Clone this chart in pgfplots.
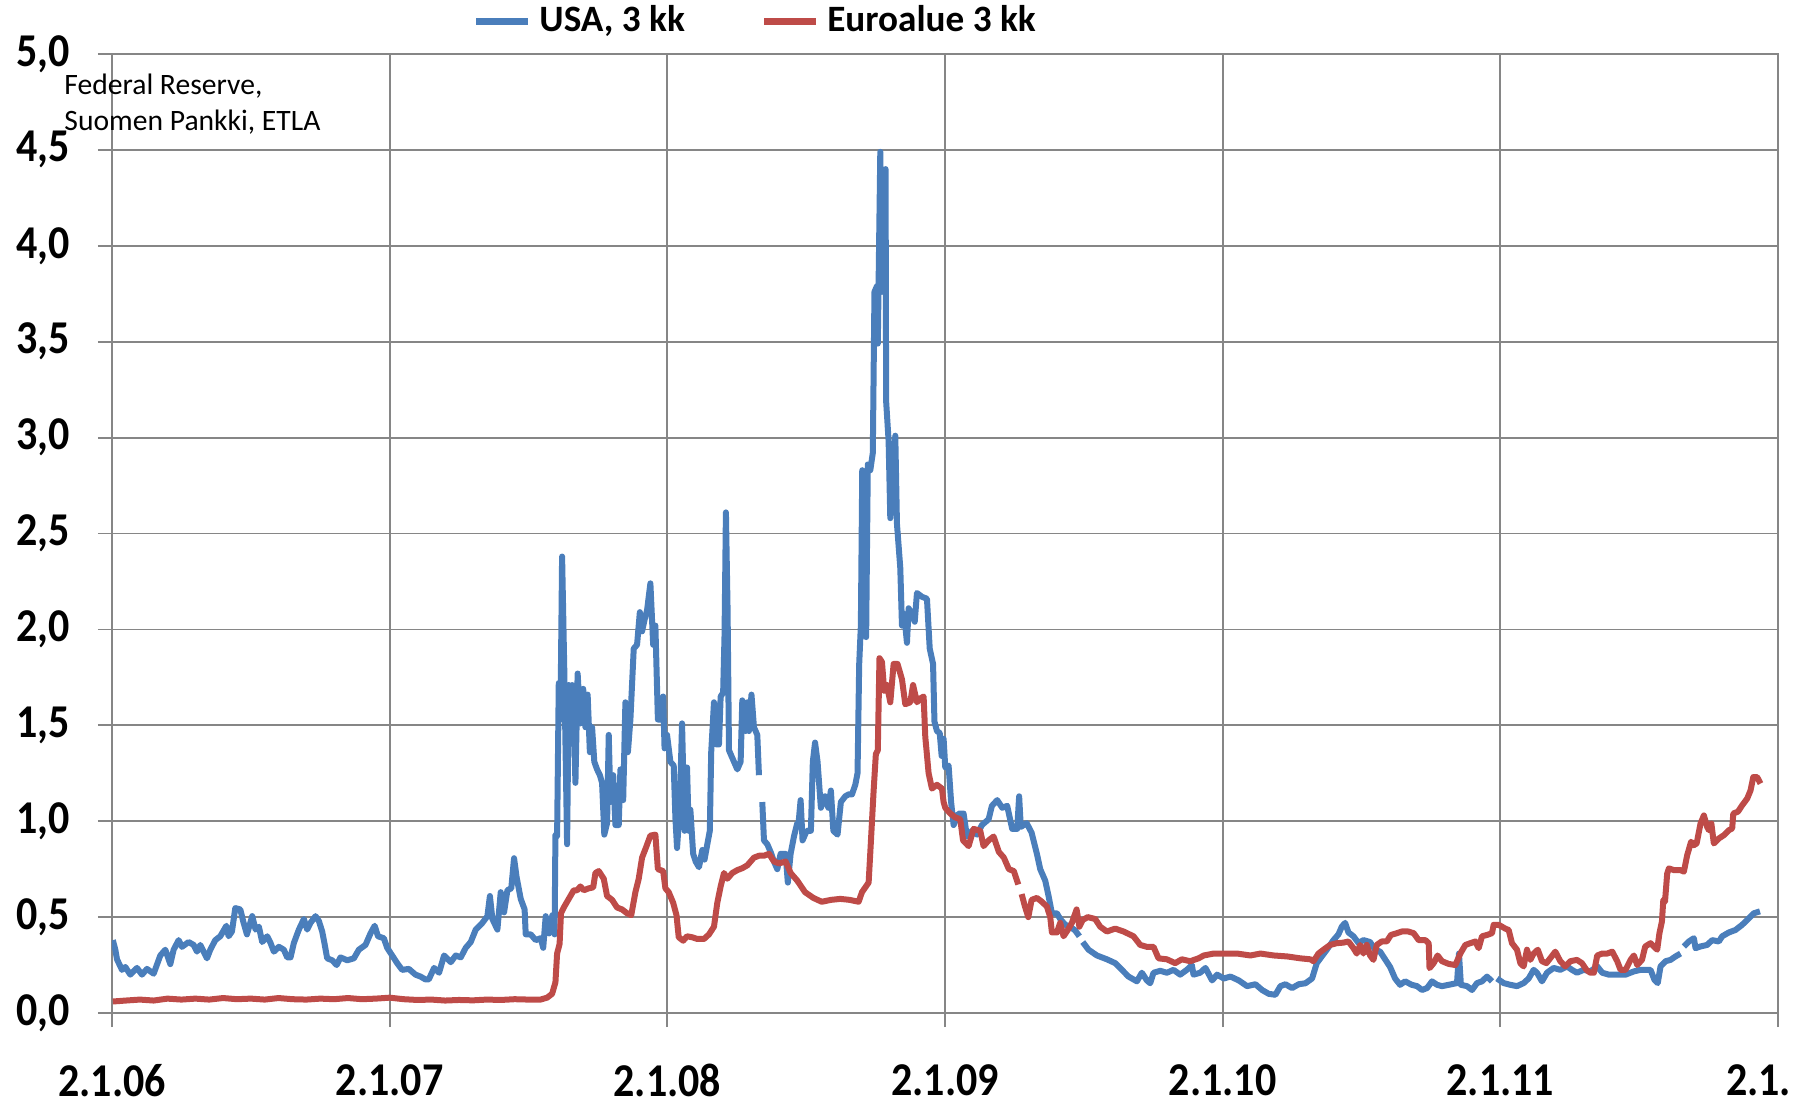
\documentclass[border=0pt]{standalone}
\usepackage{pgfplots}
\pgfplotsset{compat=1.18}
\usepackage{fontspec}
\setmainfont{Carlito}
\definecolor{usablue}{HTML}{4A7EBB}
\definecolor{eured}{HTML}{BE4B48}
\definecolor{gridgray}{HTML}{868686}

\begin{document}
\begin{tikzpicture}
\begin{axis}[
    at={(0,0)}, anchor=south west,
    scale only axis, width=416.5pt, height=239.75pt,
    xmin=0, xmax=6, ymin=0, ymax=5,
    xtick={0,1,2,3,4,5},
    xticklabels={2.1.06,2.1.07,2.1.08,2.1.09,2.1.10,2.1.11},
    extra x ticks={6},
    extra x tick labels={2.1.},
    extra x tick style={grid=major, xticklabel style={anchor=north west, xshift=-16.5pt}},
    ytick={0,0.5,1,1.5,2,2.5,3,3.5,4,4.5,5},
    /pgf/number format/use comma,
    /pgf/number format/fixed,
    /pgf/number format/fixed zerofill,
    /pgf/number format/precision=1,
    /pgf/number format/assume math mode=true,
    grid=major,
    major grid style={draw=gridgray, line width=0.45pt},
    axis line style={draw=gridgray, line width=0.45pt},
    tick style={draw=gridgray, line width=0.45pt},
    tick align=outside, major tick length=3.5pt,
    xtick pos=bottom, ytick pos=left,
    ticklabel style={font=\fontsize{10.5}{12}\selectfont\bfseries, yscale=1.12, overlay},
    yticklabel style={xshift=-3.5pt},
    xticklabel style={yshift=-4.8pt},
    unbounded coords=jump,
    clip mode=individual,
    legend columns=2,
    legend style={at={(0.388,1.034)}, anchor=center, draw=none, fill=none, overlay,
        font=\fontsize{9.3}{11}\selectfont\bfseries, yscale=1.12,
        /tikz/every even column/.append style={column sep=17pt}},
    legend image code/.code={\draw[#1, line width=1.6pt] (0pt,0pt) -- (13pt,0pt);},
]
% USA, 3 kk
\addplot[usablue, line width=1.5pt, line join=round] coordinates {
(0.003,0.38)(0.012,0.33)(0.018,0.28)(0.036,0.225)(0.048,0.24)(0.066,0.20)(0.090,0.235)(0.108,0.20)
(0.126,0.23)(0.150,0.205)(0.174,0.30)(0.192,0.33)(0.210,0.255)(0.222,0.33)(0.240,0.38)(0.252,0.345)
(0.276,0.37)(0.294,0.355)(0.306,0.32)(0.318,0.355)(0.342,0.285)(0.354,0.33)(0.372,0.38)(0.390,0.40)
(0.412,0.455)(0.420,0.40)(0.432,0.425)(0.444,0.547)(0.462,0.54)(0.474,0.47)(0.486,0.41)(0.505,0.505)
(0.517,0.435)(0.529,0.45)(0.541,0.37)(0.559,0.40)(0.571,0.365)(0.583,0.32)(0.601,0.345)(0.619,0.33)
(0.631,0.29)(0.643,0.29)(0.655,0.365)(0.673,0.435)(0.691,0.49)(0.703,0.435)(0.715,0.47)(0.733,0.505)
(0.745,0.48)(0.757,0.425)(0.765,0.365)(0.775,0.285)(0.793,0.275)(0.809,0.25)(0.823,0.29)(0.847,0.275)
(0.871,0.285)(0.889,0.33)(0.913,0.355)(0.931,0.415)(0.946,0.455)(0.958,0.40)(0.979,0.39)(0.991,0.34)
(1.009,0.30)(1.027,0.26)(1.045,0.225)(1.069,0.23)(1.093,0.20)(1.111,0.19)(1.129,0.175)(1.141,0.175)
(1.160,0.235)(1.178,0.21)(1.196,0.30)(1.220,0.265)(1.238,0.30)(1.256,0.29)(1.274,0.34)(1.292,0.37)
(1.310,0.435)(1.334,0.47)(1.352,0.505)(1.361,0.61)(1.370,0.49)(1.388,0.435)(1.400,0.63)(1.412,0.525)
(1.424,0.64)(1.438,0.65)(1.448,0.807)(1.457,0.71)(1.472,0.595)(1.486,0.54)(1.490,0.41)(1.508,0.41)
(1.526,0.38)(1.544,0.39)(1.553,0.34)(1.562,0.505)(1.574,0.415)(1.586,0.51)(1.594,0.41)
(1.597,0.93)(1.603,0.92)(1.609,1.72)(1.615,1.53)(1.621,2.38)(1.629,1.78)(1.639,0.88)(1.645,1.71)
(1.651,1.53)(1.657,1.71)(1.663,1.54)(1.669,1.20)(1.677,1.77)(1.687,1.51)(1.697,1.69)(1.705,1.49)
(1.713,1.66)(1.721,1.36)(1.729,1.49)(1.737,1.31)(1.747,1.27)(1.757,1.24)(1.765,1.20)(1.773,0.93)
(1.783,0.99)(1.789,1.45)(1.795,1.10)(1.805,1.24)(1.813,0.98)(1.825,0.98)(1.831,1.27)(1.841,1.11)
(1.849,1.62)(1.858,1.36)(1.867,1.53)(1.879,1.90)(1.891,1.92)(1.901,2.09)(1.909,1.99)(1.918,2.05)
(1.927,2.10)(1.939,2.24)(1.949,1.92)(1.957,2.02)(1.966,1.53)(1.975,1.53)(1.985,1.65)(1.990,1.38)
(1.999,1.45)(2.011,1.31)(2.023,1.29)(2.029,1.02)(2.035,0.86)(2.045,1.08)(2.053,1.51)(2.062,0.95)
(2.071,1.28)(2.077,0.95)(2.083,1.06)(2.093,0.83)(2.102,0.79)(2.114,0.76)(2.126,0.85)(2.134,0.80)
(2.144,0.88)(2.153,0.95)(2.158,1.36)(2.168,1.62)(2.177,1.40)(2.186,1.40)(2.192,1.65)(2.201,1.67)
(2.206,1.97)(2.211,2.61)(2.217,2.10)(2.222,1.37)(2.234,1.33)(2.252,1.27)(2.264,1.31)(2.270,1.63)
(2.282,1.47)(2.288,1.62)(2.294,1.47)(2.303,1.66)(2.312,1.49)(2.324,1.45)(2.330,1.24)(2.336,nan)
(2.342,1.10)(2.348,0.90)(2.360,0.88)(2.372,0.84)(2.384,0.79)(2.396,0.75)(2.408,0.83)(2.426,0.83)
(2.434,0.68)(2.444,0.83)(2.456,0.92)(2.468,0.99)
(2.472,0.98)(2.480,1.11)(2.487,0.90)(2.502,0.95)(2.517,0.95)(2.524,1.31)(2.532,1.41)(2.541,1.31)
(2.553,1.07)(2.568,1.13)(2.580,1.07)(2.589,1.16)(2.598,0.95)(2.613,0.93)(2.625,1.10)(2.641,1.13)
(2.653,1.14)(2.665,1.14)(2.677,1.19)(2.685,1.25)(2.691,1.82)(2.697,2.02)(2.702,2.83)(2.709,2.56)
(2.716,1.96)(2.722,2.86)(2.731,2.83)(2.740,2.92)(2.746,3.76)(2.755,3.79)(2.758,3.49)(2.767,4.49)
(2.773,3.76)(2.779,4.30)(2.786,4.40)(2.788,3.19)(2.797,2.98)(2.803,2.58)(2.811,2.74)(2.821,3.01)
(2.827,2.55)(2.839,2.32)(2.845,2.02)(2.853,2.08)(2.863,1.93)(2.869,2.11)(2.881,2.08)(2.891,2.04)
(2.899,2.19)(2.917,2.17)(2.935,2.16)(2.945,1.90)(2.957,1.82)(2.962,1.52)(2.971,1.47)(2.981,1.46)
(2.988,1.34)(2.995,1.43)(3.001,1.28)(3.013,1.29)(3.022,1.10)(3.031,0.98)(3.049,1.04)(3.067,1.04)
(3.079,0.92)(3.097,0.95)(3.115,0.93)(3.133,0.98)(3.157,1.01)(3.169,1.08)(3.188,1.11)(3.206,1.07)
(3.224,1.08)(3.242,0.96)(3.260,0.96)
(3.267,1.13)(3.273,0.97)(3.294,0.99)(3.312,0.94)(3.331,0.83)(3.343,0.75)(3.361,0.69)(3.373,0.61)
(3.385,0.52)(3.403,0.52)(3.415,0.49)(3.433,0.46)(3.451,0.45)(3.469,0.43)(3.484,0.40)(3.490,nan)
(3.496,0.37)(3.517,0.33)(3.547,0.30)(3.583,0.28)(3.613,0.26)(3.637,0.225)(3.661,0.19)(3.691,0.165)
(3.709,0.21)(3.727,0.17)(3.739,0.155)(3.751,0.21)(3.775,0.22)(3.799,0.21)(3.823,0.225)(3.847,0.20)
(3.871,0.225)(3.889,0.25)(3.895,0.20)(3.919,0.21)(3.938,0.235)(3.962,0.17)(3.980,0.20)(4.004,0.18)
(4.028,0.19)(4.058,0.17)(4.088,0.14)(4.118,0.15)(4.142,0.12)(4.166,0.10)(4.190,0.095)(4.208,0.14)
(4.226,0.15)(4.250,0.13)(4.274,0.15)(4.298,0.155)(4.322,0.18)
(4.339,0.26)(4.357,0.295)(4.375,0.33)(4.399,0.38)(4.417,0.41)(4.429,0.45)(4.441,0.47)(4.453,0.42)
(4.471,0.40)(4.489,0.365)(4.507,0.38)(4.531,0.37)(4.549,0.33)(4.567,0.32)(4.585,0.28)(4.603,0.24)
(4.621,0.18)(4.639,0.147)(4.657,0.165)(4.681,0.147)(4.700,0.14)(4.718,0.12)(4.736,0.13)(4.754,0.165)
(4.772,0.147)(4.790,0.14)(4.814,0.147)(4.844,0.156)(4.851,0.31)(4.858,0.147)(4.880,0.14)(4.898,0.12)
(4.916,0.156)(4.934,0.165)(4.952,0.19)(4.970,0.165)(4.979,nan)(4.988,0.18)(5.012,0.156)(5.036,0.147)
(5.060,0.14)(5.084,0.156)(5.102,0.18)(5.120,0.225)(5.132,0.21)(5.150,0.165)(5.168,0.21)(5.192,0.235)
(5.216,0.225)(5.240,0.243)(5.258,0.225)(5.276,0.21)(5.300,0.225)(5.324,0.217)(5.349,0.243)(5.367,0.21)
(5.391,0.20)(5.421,0.20)(5.451,0.20)(5.481,0.217)(5.505,0.225)(5.541,0.225)(5.555,0.173)(5.567,0.156)
(5.577,0.243)(5.595,0.27)(5.613,0.277)(5.631,0.295)(5.649,0.31)(5.655,nan)(5.661,0.347)(5.679,0.373)
(5.697,0.39)(5.703,0.338)(5.721,0.347)(5.745,0.355)(5.763,0.38)(5.787,0.373)(5.799,0.40)(5.823,0.42)
(5.847,0.433)(5.871,0.46)(5.889,0.485)(5.913,0.52)(5.935,0.53)
};
\addlegendentry{USA, 3 kk}
% Euroalue 3 kk
\addplot[eured, line width=1.5pt, line join=round] coordinates {
(0.003,0.06)(0.05,0.065)(0.10,0.07)(0.15,0.065)(0.20,0.075)(0.25,0.07)(0.30,0.075)(0.35,0.07)
(0.40,0.078)(0.45,0.072)(0.50,0.075)(0.55,0.07)(0.60,0.078)(0.65,0.072)(0.70,0.07)(0.75,0.075)
(0.80,0.072)(0.85,0.078)(0.90,0.072)(0.95,0.075)(1.00,0.08)(1.05,0.072)(1.10,0.068)(1.15,0.07)
(1.20,0.065)(1.25,0.068)(1.30,0.066)(1.35,0.07)(1.40,0.068)(1.45,0.072)(1.50,0.07)(1.543,0.07)
(1.567,0.08)(1.585,0.10)
(1.597,0.16)(1.603,0.31)(1.612,0.36)(1.617,0.52)(1.627,0.55)(1.639,0.58)(1.651,0.61)(1.663,0.64)
(1.675,0.64)(1.687,0.66)(1.699,0.64)(1.717,0.65)(1.733,0.655)(1.741,0.73)(1.753,0.74)(1.771,0.70)
(1.783,0.61)(1.801,0.59)(1.819,0.55)(1.837,0.54)(1.855,0.52)(1.870,0.51)(1.885,0.63)(1.897,0.70)
(1.909,0.81)(1.925,0.87)(1.939,0.925)(1.957,0.93)(1.966,0.75)(1.985,0.74)(1.993,0.65)(2.005,0.63)
(2.021,0.575)(2.033,0.51)(2.041,0.395)(2.057,0.377)(2.071,0.40)(2.089,0.395)(2.108,0.386)(2.132,0.386)
(2.150,0.41)(2.168,0.45)(2.180,0.575)(2.192,0.66)(2.204,0.73)(2.216,0.70)(2.234,0.73)(2.252,0.745)
(2.270,0.755)(2.288,0.77)(2.312,0.81)(2.330,0.82)(2.348,0.82)(2.366,0.83)(2.384,0.79)(2.402,0.78)
(2.426,0.79)(2.444,0.73)(2.468,0.69)(2.496,0.63)(2.526,0.60)(2.556,0.58)(2.590,0.59)(2.623,0.595)
(2.656,0.59)(2.689,0.58)(2.701,0.63)(2.725,0.68)(2.733,0.89)(2.743,1.16)(2.751,1.35)(2.758,1.37)
(2.764,1.85)(2.773,1.83)(2.781,1.68)(2.791,1.71)(2.803,1.62)(2.815,1.82)(2.829,1.82)(2.845,1.74)
(2.857,1.61)(2.875,1.62)(2.885,1.71)(2.899,1.62)(2.911,1.64)(2.923,1.65)(2.929,1.44)(2.941,1.25)
(2.953,1.17)(2.971,1.19)(2.989,1.17)(2.995,1.10)(3.001,1.07)(3.019,1.04)(3.037,1.02)(3.055,1.01)
(3.065,0.90)(3.085,0.87)(3.103,0.96)(3.127,0.95)(3.139,0.87)(3.157,0.90)(3.175,0.92)(3.194,0.84)
(3.212,0.81)(3.230,0.75)(3.248,0.74)
(3.264,0.67)(3.270,nan)(3.276,0.62)(3.288,0.555)(3.300,0.50)(3.312,0.59)(3.331,0.60)(3.349,0.58)
(3.367,0.555)(3.379,0.50)(3.385,0.42)(3.403,0.42)(3.415,0.47)(3.427,0.40)(3.441,0.43)(3.457,0.47)
(3.474,0.54)(3.484,0.45)(3.496,0.485)(3.514,0.50)(3.541,0.49)(3.559,0.45)(3.583,0.425)(3.613,0.44)
(3.643,0.425)(3.679,0.40)(3.703,0.355)(3.727,0.345)(3.751,0.345)(3.769,0.285)(3.799,0.28)(3.829,0.26)
(3.853,0.28)(3.883,0.27)(3.913,0.285)(3.932,0.30)(3.968,0.31)(4.004,0.31)(4.052,0.31)(4.100,0.30)
(4.136,0.31)(4.184,0.30)(4.232,0.295)(4.280,0.285)(4.316,0.28)
(4.327,0.27)(4.345,0.31)(4.363,0.33)(4.387,0.355)(4.411,0.364)(4.435,0.367)(4.453,0.373)(4.471,0.338)
(4.483,0.31)(4.495,0.355)(4.507,0.31)(4.519,0.355)(4.531,0.30)(4.543,0.277)(4.555,0.355)(4.573,0.373)
(4.591,0.373)(4.606,0.407)(4.627,0.416)(4.645,0.425)(4.669,0.425)(4.688,0.416)(4.706,0.38)(4.730,0.38)
(4.742,0.364)(4.745,0.234)(4.760,0.26)(4.774,0.30)(4.790,0.27)(4.814,0.256)(4.838,0.25)(4.856,0.31)
(4.874,0.355)(4.892,0.364)(4.910,0.373)(4.922,0.338)(4.934,0.40)(4.952,0.407)(4.970,0.416)(4.976,0.46)
(4.994,0.46)(5.018,0.44)(5.030,0.433)(5.042,0.364)(5.060,0.33)(5.072,0.26)(5.084,0.243)(5.096,0.33)
(5.108,0.277)(5.120,0.31)(5.135,0.33)(5.150,0.27)(5.166,0.26)(5.180,0.286)(5.198,0.32)(5.216,0.27)
(5.234,0.243)(5.252,0.27)(5.276,0.277)(5.294,0.26)(5.310,0.225)(5.324,0.21)(5.337,0.21)(5.349,0.30)
(5.367,0.31)(5.385,0.31)(5.403,0.32)(5.421,0.27)(5.433,0.225)(5.451,0.225)(5.469,0.277)(5.481,0.30)
(5.493,0.25)(5.510,0.277)(5.522,0.347)(5.541,0.364)(5.553,0.347)(5.565,0.33)(5.573,0.416)(5.582,0.477)
(5.587,0.59)(5.593,0.58)(5.601,0.728)(5.607,0.754)(5.625,0.745)(5.649,0.745)(5.661,0.737)(5.673,0.823)
(5.687,0.893)(5.697,0.875)(5.707,0.884)(5.721,0.988)(5.733,1.03)(5.745,0.97)(5.751,0.953)(5.760,0.988)
(5.769,0.884)(5.787,0.91)(5.805,0.927)(5.823,0.953)(5.835,0.962)(5.839,1.04)(5.856,1.05)(5.871,1.083)
(5.889,1.118)(5.901,1.16)(5.911,1.23)(5.925,1.23)(5.937,1.196)
};
\addlegendentry{Euroalue 3 kk}
\node[anchor=north west, align=left, inner sep=0pt,
      font=\fontsize{7.4}{8.9}\selectfont] at (rel axis cs:-0.029,0.980)
      {Federal Reserve,\\Suomen Pankki, ETLA};
\end{axis}
\path (-28pt,-22.5pt) rectangle (423.25pt,253.25pt);
\end{tikzpicture}
\end{document}
